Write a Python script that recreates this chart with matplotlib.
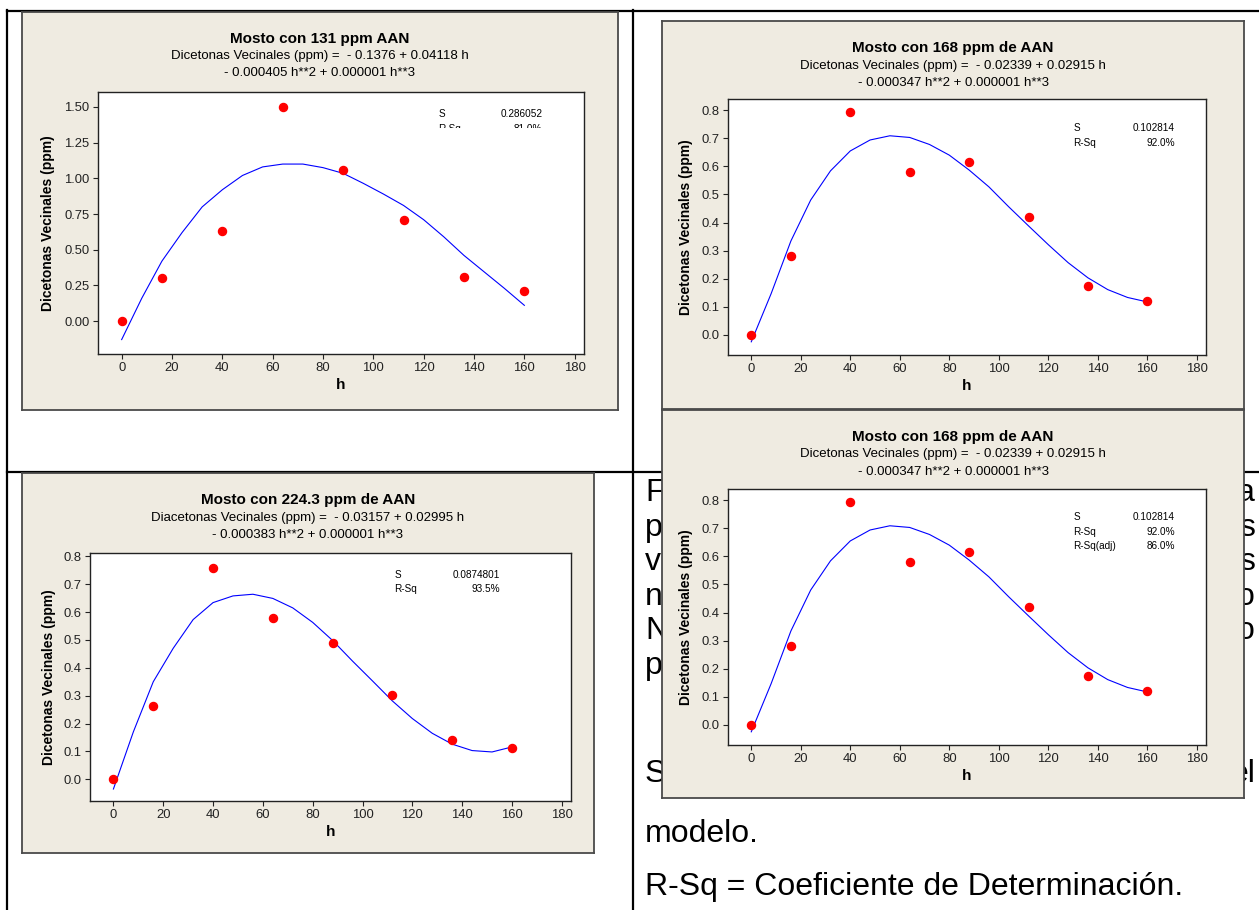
import matplotlib
matplotlib.use('agg')
import matplotlib.pyplot as plt
from matplotlib.lines import Line2D
from matplotlib.patches import Rectangle

W, H = 1259, 910

# puntos medidos (h en horas)
h = [0, 16, 40, 64, 88, 112, 136, 160]
dv_131 = [0.00, 0.30, 0.63, 1.50, 1.06, 0.71, 0.31, 0.21]
dv_168 = [0.00, 0.28, 0.795, 0.58, 0.615, 0.42, 0.173, 0.121]
dv_224 = [0.002, 0.262, 0.758, 0.58, 0.49, 0.301, 0.141, 0.112]

# linea ajustada
h_fit = [0, 8, 16, 24, 32, 40, 48, 56, 64, 72, 80, 88, 96, 104, 112, 120, 128, 136, 144, 152, 160]
fit_131 = [-0.13, 0.16, 0.42, 0.62, 0.80, 0.92, 1.02, 1.08, 1.10, 1.10, 1.075, 1.035, 0.965, 0.89, 0.81,
           0.71, 0.59, 0.46, 0.345, 0.23, 0.11]
fit_168 = [-0.025, 0.146, 0.334, 0.48, 0.584, 0.655, 0.694, 0.709, 0.703, 0.678, 0.640, 0.587, 0.527,
           0.456, 0.388, 0.321, 0.257, 0.203, 0.161, 0.133, 0.117]
fit_224 = [-0.035, 0.17, 0.35, 0.47, 0.573, 0.634, 0.658, 0.664, 0.649, 0.615, 0.563, 0.498, 0.424,
           0.353, 0.281, 0.218, 0.165, 0.126, 0.103, 0.098, 0.116]

xticks = [0, 20, 40, 60, 80, 100, 120, 140, 160, 180]
yticks_131 = [0.00, 0.25, 0.50, 0.75, 1.00, 1.25, 1.50]
yticks_dv = [0.0, 0.1, 0.2, 0.3, 0.4, 0.5, 0.6, 0.7, 0.8]

BEIGE = '#EFEBE1'
FONT = ['Liberation Sans', 'DejaVu Sans']
plt.rcParams['font.family'] = FONT

fig = plt.figure(figsize=(W / 100, H / 100), dpi=100)


def rect(x0, y0, x1, y1):
    return [x0 / W, 1 - y1 / H, (x1 - x0) / W, (y1 - y0) / H]


def ftext(ax, x, y, s, **kw):
    ax.text(x / W, 1 - y / H, s, transform=fig.transFigure, **kw)


def panel(box, axbox, ylab_x, title, eq1, eq2, y, fit, yticks, yfmt, ylim, stats, sx, sy, z, cut=None):
    bg = fig.add_axes(rect(*box), zorder=z)
    bg.set_facecolor(BEIGE)
    bg.set_xticks([])
    bg.set_yticks([])
    for sp in bg.spines.values():
        sp.set_color('#4a4a4a')
        sp.set_linewidth(1.3)
    cx = (box[0] + box[2]) / 2
    ftext(bg, cx, box[1] + 27, title, ha='center', va='center', fontsize=11, fontweight='bold')
    ftext(bg, cx, box[1] + 44.5, eq1, ha='center', va='center', fontsize=9.5)
    ftext(bg, cx, box[1] + 61.5, eq2, ha='center', va='center', fontsize=9.5)
    ftext(bg, ylab_x, (axbox[1] + axbox[3]) / 2, 'Dicetonas Vecinales (ppm)', rotation=90,
          ha='center', va='center', fontsize=10, fontweight='bold')
    ftext(bg, (axbox[0] + axbox[2]) / 2, axbox[3] + 31, 'h', ha='center', va='center',
          fontsize=11, fontweight='bold')

    ax = fig.add_axes(rect(*axbox), zorder=z + 1)
    ax.set_facecolor('white')
    ax.plot(h_fit, fit, color='#0000FF', linewidth=0.8, zorder=2)
    ax.plot(h, y, 'o', color='#FF0000', markersize=5.8, zorder=3)
    ax.set_xlim(-9.4, 183.7)
    ax.set_ylim(*ylim)
    ax.set_xticks(xticks)
    ax.set_yticks(yticks)
    ax.set_yticklabels([yfmt % v for v in yticks])
    ax.tick_params(direction='out', length=3.6, width=0.8, pad=2.5, labelsize=9.4,
                   colors='#222222')
    for sp in ax.spines.values():
        sp.set_linewidth(1.0)
        sp.set_color('#222222')
    for i, (k, v) in enumerate(stats):
        ax.text(sx[0], sy - i * 0.057, k, transform=ax.transAxes, fontsize=7.2, va='center', ha='left')
        ax.text(sx[1], sy - i * 0.057, v, transform=ax.transAxes, fontsize=7.2, va='center', ha='right')
    if cut is not None:
        ax.add_patch(Rectangle((0.6, cut - 0.06), 0.39, 0.06, transform=ax.transAxes,
                               facecolor='white', edgecolor='none', zorder=10))
    return ax


# tabla del documento
lw = 1.6
fig.add_artist(Line2D([7 / W, 1 - 1 / W], [1 - 11 / H, 1 - 11 / H], color='black', lw=lw, zorder=1))
fig.add_artist(Line2D([7 / W, 1], [1 - 472 / H, 1 - 472 / H], color='black', lw=lw, zorder=1))
fig.add_artist(Line2D([7 / W, 7 / W], [0, 1 - 10 / H], color='black', lw=lw, zorder=1))
fig.add_artist(Line2D([633 / W, 633 / W], [0, 1 - 10 / H], color='black', lw=lw, zorder=1))

# texto del documento que queda detras del ultimo grafico
doc_kw = dict(fontsize=23, va='baseline', zorder=1, color='black')
left_letters = ['F', 'p', 'v', 'n', 'N', 'p']
right_letters = ['a', 's', 's', 'o', 'o']
for i, s in enumerate(left_letters):
    fig.text(645 / W, 1 - (501 + i * 34.6) / H, s, ha='left', **doc_kw)
for i, s in enumerate(right_letters):
    fig.text(1255 / W, 1 - (501 + i * 34.6) / H, s, ha='right', **doc_kw)
fig.text(645 / W, 1 - 782 / H, 'S', ha='left', **doc_kw)
fig.text(1255 / W, 1 - 782 / H, 'el', ha='right', **doc_kw)
fig.text(645 / W, 1 - 842 / H, 'modelo.', ha='left', **doc_kw)
fig.text(645 / W, 1 - 895 / H, 'R-Sq = Coeficiente de Determinación.', ha='left', **doc_kw)

panel((22, 12, 618, 410), (98, 92, 584, 354), 48, 'Mosto con 131 ppm AAN',
      'Dicetonas Vecinales (ppm) =  - 0.1376 + 0.04118 h', '- 0.000405 h**2 + 0.000001 h**3',
      dv_131, fit_131, yticks_131, '%.2f', (-0.231, 1.605),
      [('S', '0.286052'), ('R-Sq', '81.0%')], (0.70, 0.914), 0.916, 2, cut=0.864)

panel((662, 21, 1244, 409), (728, 99, 1206, 355), 686, 'Mosto con 168 ppm de AAN',
      'Dicetonas Vecinales (ppm) =  - 0.02339 + 0.02915 h', '- 0.000347 h**2 + 0.000001 h**3',
      dv_168, fit_168, yticks_dv, '%.1f', (-0.072, 0.840),
      [('S', '0.102814'), ('R-Sq', '92.0%')], (0.722, 0.935), 0.887, 2)

panel((22, 473, 594, 853), (90, 553, 571, 801), 49, 'Mosto con 224.3 ppm de AAN',
      'Diacetonas Vecinales (ppm) =  - 0.03157 + 0.02995 h', '- 0.000383 h**2 + 0.000001 h**3',
      dv_224, fit_224, yticks_dv, '%.1f', (-0.078, 0.812),
      [('S', '0.0874801'), ('R-Sq', '93.5%')], (0.633, 0.853), 0.913, 2)

panel((662, 410, 1244, 798), (728, 489, 1206, 745), 686, 'Mosto con 168 ppm de AAN',
      'Dicetonas Vecinales (ppm) =  - 0.02339 + 0.02915 h', '- 0.000347 h**2 + 0.000001 h**3',
      dv_168, fit_168, yticks_dv, '%.1f', (-0.072, 0.840),
      [('S', '0.102814'), ('R-Sq', '92.0%'), ('R-Sq(adj)', '86.0%')], (0.722, 0.935), 0.89, 6)

fig.savefig('out.png', dpi=100, facecolor='white')
